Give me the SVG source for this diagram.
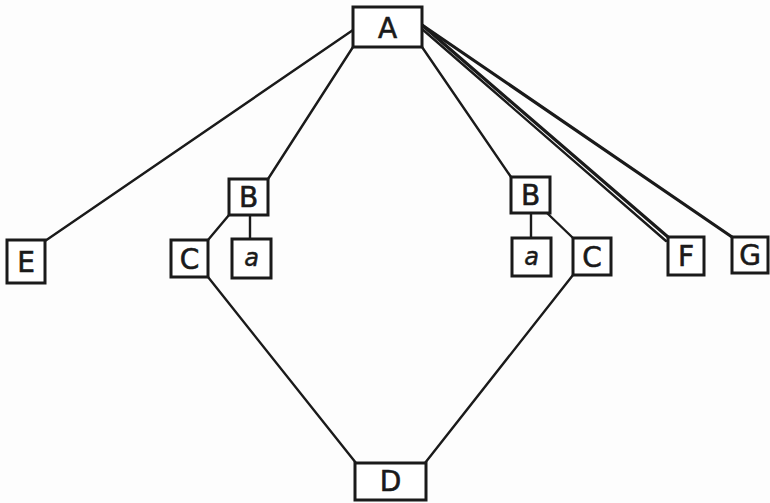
<svg xmlns="http://www.w3.org/2000/svg" width="770" height="503" viewBox="0 0 770 503">
<style>
.box{fill:#fff;stroke:#1a1a1a;stroke-width:3}
.lbl{font-family:"DejaVu Sans","Liberation Sans",sans-serif;font-size:28px;fill:#1a1a1a;text-anchor:middle;stroke:#1a1a1a;stroke-width:0.6}
.sm{font-family:"DejaVu Sans","Liberation Sans",sans-serif;font-size:24px;font-style:italic;fill:#1a1a1a;text-anchor:middle;stroke:#1a1a1a;stroke-width:0.5}
.ln{stroke:#1a1a1a;stroke-width:2.4;fill:none;stroke-linecap:round}
.thick{stroke:#1a1a1a;stroke-width:3.2;fill:none;stroke-linecap:round}
</style>
<rect width="770" height="503" fill="#fdfdfd"/>
<g id="connectors">
<line class="ln" x1="353" y1="30" x2="45" y2="241"/>
<line class="ln" x1="353" y1="47" x2="268" y2="179"/>
<line class="ln" x1="422" y1="47" x2="511" y2="177"/>
<line class="thick" x1="422" y1="25" x2="668" y2="237"/>
<line class="ln" x1="422" y1="29" x2="666" y2="241"/>
<line class="thick" x1="422" y1="25" x2="732" y2="237"/>
<line class="ln" x1="250" y1="215" x2="250" y2="239"/>
<line class="ln" x1="229" y1="215" x2="208" y2="240"/>
<line class="ln" x1="531" y1="213" x2="531" y2="238"/>
<line class="ln" x1="547" y1="213" x2="573" y2="238"/>
<line class="ln" x1="208" y1="277" x2="356" y2="463"/>
<line class="ln" x1="573" y1="275" x2="425" y2="463"/>
</g>
<g id="A"><rect class="box" x="353" y="7" width="69" height="40"/><text class="lbl" x="387.5" y="38" font-size="30">A</text></g>
<g id="B1"><rect class="box" x="229" y="179" width="39" height="36"/><text class="lbl" x="248.5" y="207">B</text></g>
<g id="a1"><rect class="box" x="232" y="239" width="39" height="39"/><text class="sm" x="251.5" y="266">a</text></g>
<g id="C1"><rect class="box" x="171" y="240" width="37" height="37"/><text class="lbl" x="189.5" y="268.5">C</text></g>
<g id="E"><rect class="box" x="7" y="240" width="38" height="43"/><text class="lbl" x="26" y="272">E</text></g>
<g id="B2"><rect class="box" x="511" y="177" width="39" height="36"/><text class="lbl" x="530.5" y="205">B</text></g>
<g id="a2"><rect class="box" x="512" y="238" width="39" height="38"/><text class="sm" x="531.5" y="265">a</text></g>
<g id="C2"><rect class="box" x="573" y="238" width="38" height="37"/><text class="lbl" x="592" y="266.5">C</text></g>
<g id="F"><rect class="box" x="668" y="237" width="36" height="38"/><text class="lbl" x="686" y="266">F</text></g>
<g id="G"><rect class="box" x="732" y="237" width="36" height="36"/><text class="lbl" x="750" y="265">G</text></g>
<g id="D"><rect class="box" x="355" y="463" width="71" height="37"/><text class="lbl" x="390.5" y="491" font-size="26">D</text></g>
</svg>
